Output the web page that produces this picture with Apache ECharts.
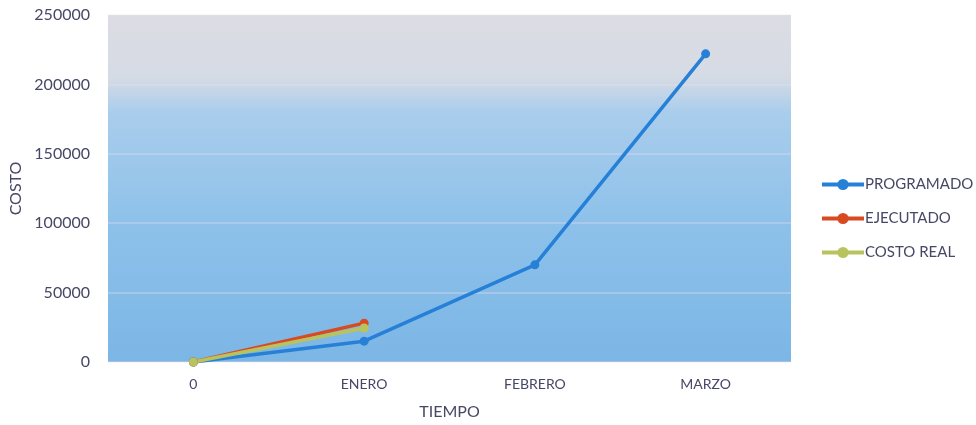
<!DOCTYPE html>
<html>
<head>
<meta charset="utf-8">
<script src="https://cdn.jsdelivr.net/npm/echarts@6/dist/echarts.min.js"></script>
<style>
  html, body { margin: 0; padding: 0; background: #fff; }
  #chart { width: 976px; height: 425px; }
</style>
</head>
<body>
<div id="chart"></div>
<script>
// data
const months = ['0', 'ENERO', 'FEBRERO', 'MARZO'];
const programado = [0, 15000, 70000, 222000];
const ejecutado = [0, 28000];
const costoReal = [0, 24500];
const yTicks = { min: 0, max: 250000, step: 50000 };

const font = 'Lato, "Open Sans", sans-serif';
const txt = '#474766';

function lineSeries(name, data, color) {
  return {
    name, type: 'line', data,
    symbol: 'circle', symbolSize: 9,
    lineStyle: { width: 3.5, color },
    itemStyle: { color },
    emphasis: { disabled: true }
  };
}

const chart = echarts.init(document.getElementById('chart'));
chart.setOption({
  animation: false,
  grid: {
    left: 108, right: 185, top: 15, bottom: 63,
    outerBoundsMode: 'none',
    show: true, borderWidth: 0,
    backgroundColor: new echarts.graphic.LinearGradient(0, 0, 0, 1, [
      { offset: 0, color: '#dcdce3' },
      { offset: 0.18, color: '#d5dbe5' },
      { offset: 0.28, color: '#aacdec' },
      { offset: 0.6, color: '#8dc1ea' },
      { offset: 1, color: '#7cb6e5' }
    ])
  },
  legend: {
    orient: 'vertical', left: 815, top: 172, itemGap: 19,
    itemWidth: 42, itemHeight: 14,
    lineStyle: { width: 4 },
    textStyle: { color: txt, fontFamily: font, fontSize: 15, padding: [0, 0, 0, -4] },
    data: ['PROGRAMADO', 'EJECUTADO', 'COSTO REAL']
  },
  xAxis: {
    type: 'category', data: months, boundaryGap: true,
    name: 'TIEMPO', nameLocation: 'middle', nameGap: 42,
    nameTextStyle: { color: txt, fontFamily: font, fontSize: 16 },
    axisLine: { show: false }, axisTick: { show: false },
    axisLabel: { color: txt, fontFamily: font, fontSize: 14, margin: 15 }
  },
  yAxis: {
    type: 'value', min: yTicks.min, max: yTicks.max, interval: yTicks.step,
    name: 'COSTO', nameLocation: 'middle', nameGap: 77,
    nameTextStyle: { color: txt, fontFamily: font, fontSize: 16 },
    axisLine: { show: false }, axisTick: { show: false },
    axisLabel: { color: txt, fontFamily: font, fontSize: 16, margin: 18, formatter: v => String(v) },
    splitLine: { lineStyle: { color: 'rgba(240,225,230,0.4)', width: 1.5 } }
  },
  series: [
    lineSeries('PROGRAMADO', programado, '#2680d8'),
    lineSeries('EJECUTADO', ejecutado, '#d84a22'),
    lineSeries('COSTO REAL', costoReal, '#b9c35e')
  ]
});
</script>
</body>
</html>
